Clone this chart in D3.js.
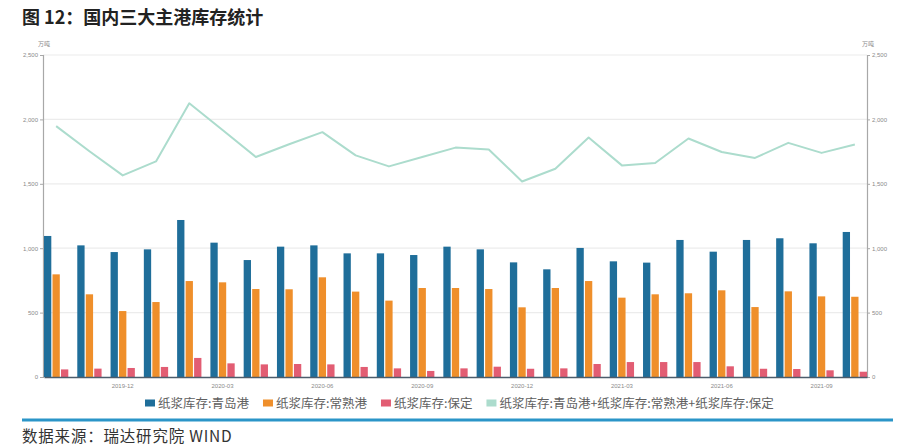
<!DOCTYPE html>
<html>
<head>
<meta charset="utf-8">
<script src="https://cdn.jsdelivr.net/npm/d3@7"></script>
<style>
    body { margin: 0; background: #fff; }
    svg { display: block; font-family: "Noto Sans CJK SC", "Noto Sans", sans-serif; }
</style>
</head>
<body>
<div id="chart"></div>
<script>
// months of the chart, one group of bars per month
var months = ["2019-10", "2019-11", "2019-12", "2020-01", "2020-02", "2020-03", "2020-04", "2020-05", "2020-06",
              "2020-07", "2020-08", "2020-09", "2020-10", "2020-11", "2020-12", "2021-01", "2021-02", "2021-03",
              "2021-04", "2021-05", "2021-06", "2021-07", "2021-08", "2021-09", "2021-10"];
var tickMonths = ["2019-12", "2020-03", "2020-06", "2020-09", "2020-12", "2021-03", "2021-06", "2021-09"];

// 万吨
var qingdao = [1095, 1022, 970, 991, 1219, 1043, 908, 1012, 1022, 960, 960, 947, 1012,
               991, 890, 836, 1002, 898, 888, 1064, 973, 1064, 1077, 1038, 1126];
var changshu = [797, 642, 512, 582, 745, 735, 683, 681, 774, 663, 593, 691, 691,
                683, 541, 691, 745, 616, 642, 650, 673, 543, 665, 626, 623];
var baoding = [59, 65, 70, 78, 148, 106, 98, 101, 98, 78, 67, 47, 67,
               80, 64, 67, 101, 116, 116, 116, 83, 64, 62, 52, 41];
var total = [1948, 1753, 1565, 1674, 2125, 1917, 1708, 1807, 1901, 1721, 1635, 1708, 1781,
             1766, 1518, 1617, 1859, 1643, 1661, 1852, 1747, 1701, 1818, 1740, 1805];

var yTicks = [0, 500, 1000, 1500, 2000, 2500];
var barNames = ["纸浆库存:青岛港", "纸浆库存:常熟港", "纸浆库存:保定"];
var lineName = "纸浆库存:青岛港+纸浆库存:常熟港+纸浆库存:保定";

(function() {
    var width = 920,
        height = 448,
        left = 43,
        right = 867,
        top = 55,
        bottom = 377,
        barColors = ["#1f6e9a", "#ef8f2b", "#e25d73"],
        lineColor = "#acdccd",
        tickColor = "#8a8a8a";

    var svg = d3.select("#chart").append("svg")
                .attr("width", width)
                .attr("height", height);

    svg.append("text")
       .attr("x", 22)
       .attr("y", 24)
       .attr("font-size", 18)
       .attr("font-weight", "bold")
       .attr("fill", "#222")
       .text("图 12：国内三大主港库存统计");

    var x = d3.scaleBand()
              .domain(months)
              .range([left + 1, right])
              .paddingInner(0.27)
              .paddingOuter(0);

    var xSub = d3.scaleBand()
                 .domain([0, 1, 2])
                 .range([0, x.bandwidth()])
                 .paddingInner(0.14);

    var y = d3.scaleLinear().domain([0, 2500]).range([bottom, top]);
    var yRight = d3.scaleLinear().domain([0, 2500]).range([bottom, top]);

    // grid
    svg.append("g")
       .selectAll("line")
       .data(yTicks.slice(1))
       .join("line")
       .attr("x1", left)
       .attr("x2", right)
       .attr("y1", function(d) { return y(d); })
       .attr("y2", function(d) { return y(d); })
       .attr("stroke", "#ececec")
       .attr("stroke-width", 1.2);

    // axes
    var fmt = d3.format(",");
    var leftAxis = svg.append("g")
                      .attr("transform", "translate(" + left + ",0)")
                      .call(d3.axisLeft(y).tickValues(yTicks).tickFormat(fmt).tickSize(3).tickPadding(2));
    var rightAxis = svg.append("g")
                       .attr("transform", "translate(" + right + ",0)")
                       .call(d3.axisRight(yRight).tickValues(yTicks).tickFormat(fmt).tickSize(3).tickPadding(2));

    [leftAxis, rightAxis].forEach(function(a) {
        a.select(".domain").attr("stroke", "#a8a8a8").attr("stroke-width", 1.2);
        a.selectAll(".tick line").attr("stroke", "#a8a8a8");
        a.selectAll(".tick text").attr("fill", tickColor).attr("font-size", 6);
    });

    svg.append("text")
       .attr("x", left + 1)
       .attr("y", top - 9)
       .attr("text-anchor", "middle")
       .attr("font-size", 6)
       .attr("fill", tickColor)
       .text("万吨");
    svg.append("text")
       .attr("x", right + 1)
       .attr("y", top - 9)
       .attr("text-anchor", "middle")
       .attr("font-size", 6)
       .attr("fill", tickColor)
       .text("万吨");

    // bars
    var series = [qingdao, changshu, baoding];
    var groups = svg.append("g")
                    .selectAll(".month")
                    .data(months)
                    .join("g")
                    .attr("class", "month")
                    .attr("transform", function(d) { return "translate(" + x(d) + ",0)"; });

    groups.selectAll("rect")
          .data(function(d, i) { return series.map(function(s, k) { return {k: k, v: s[i]}; }); })
          .join("rect")
          .attr("x", function(d) { return xSub(d.k); })
          .attr("width", xSub.bandwidth())
          .attr("y", function(d) { return y(d.v); })
          .attr("height", function(d) { return bottom - y(d.v); })
          .attr("fill", function(d) { return barColors[d.k]; });

    // x axis
    var xAxis = svg.append("g")
                   .attr("transform", "translate(0," + bottom + ")")
                   .call(d3.axisBottom(x).tickValues(tickMonths).tickSize(0).tickPadding(7));
    xAxis.select(".domain").attr("stroke", "#4d5d6c").attr("stroke-width", 1.4);
    xAxis.selectAll(".tick text").attr("fill", tickColor).attr("font-size", 6);

    // total line on the right axis
    var line = d3.line()
                 .x(function(d, i) { return x(months[i]) + x.bandwidth() / 2; })
                 .y(function(d) { return yRight(d); });

    svg.append("path")
       .datum(total)
       .attr("d", line)
       .attr("fill", "none")
       .attr("stroke", lineColor)
       .attr("stroke-width", 2)
       .attr("stroke-linejoin", "round");

    // legend
    var legendItems = barNames.map(function(n, i) { return {name: n, color: barColors[i]}; })
                              .concat([{name: lineName, color: lineColor}]);
    var legend = svg.append("g").attr("transform", "translate(0,403)");
    var lx = 145;
    legendItems.forEach(function(item) {
        var g = legend.append("g").attr("transform", "translate(" + lx + ",0)");
        g.append("rect")
         .attr("x", 0)
         .attr("y", -3.5)
         .attr("width", 10)
         .attr("height", 7)
         .attr("fill", item.color);
        var t = g.append("text")
                 .attr("x", 13)
                 .attr("dy", "0.36em")
                 .attr("font-size", 12.5)
                 .attr("fill", "#606060")
                 .text(item.name);
        lx += 13 + t.node().getComputedTextLength() + 14;
    });

    svg.append("line")
       .attr("x1", 22)
       .attr("x2", 893)
       .attr("y1", 420)
       .attr("y2", 420)
       .attr("stroke", "#2b95c8")
       .attr("stroke-width", 3);

    svg.append("text")
       .attr("x", 22)
       .attr("y", 442)
       .attr("font-size", 15.5)
       .attr("letter-spacing", 0.8)
       .attr("fill", "#333")
       .text("数据来源：瑞达研究院 WIND");
})();
</script>
</body>
</html>
